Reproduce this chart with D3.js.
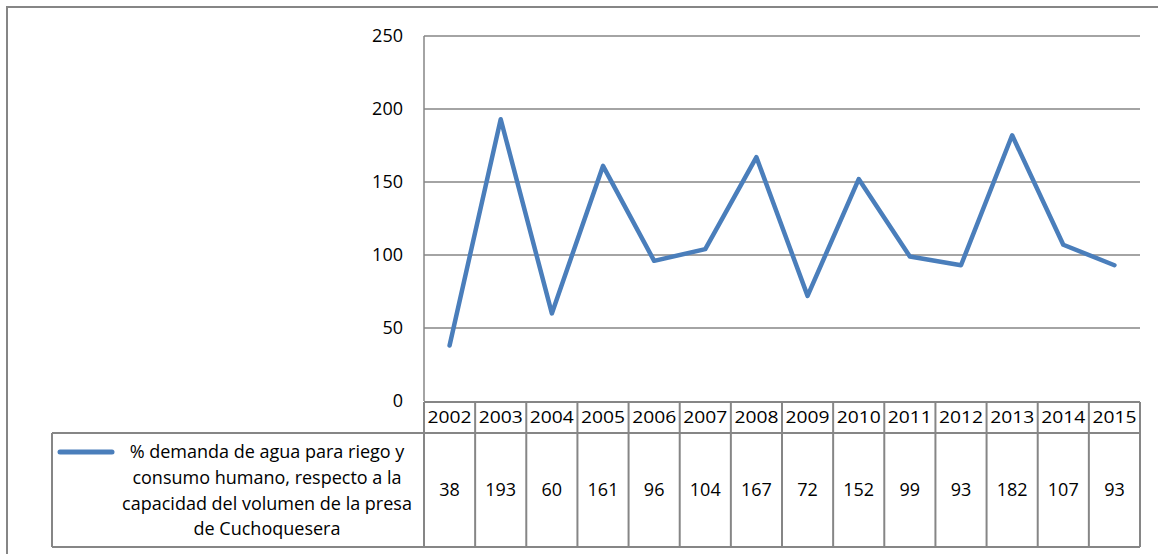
<!DOCTYPE html>
<meta charset="utf-8">
<style>
	body { margin: 0; background: #fff; }
	svg text { font-family: "Open Sans", "Liberation Sans", sans-serif; fill: #000; }
</style>
<svg width="1158" height="554"></svg>
<script src="https://d3js.org/d3.v7.min.js"></script>
<script>
	// data
	var years = ["2002", "2003", "2004", "2005", "2006", "2007", "2008", "2009", "2010", "2011", "2012", "2013", "2014", "2015"];
	var demanda = [38, 193, 60, 161, 96, 104, 167, 72, 152, 99, 93, 182, 107, 93];
	var yTicks = [0, 50, 100, 150, 200, 250];
	var seriesLabel = ["% demanda de agua para riego y", "consumo humano, respecto a la", "capacidad del volumen de la presa", "de Cuchoquesera"];

	// layout
	var plot = {left: 424, right: 1140, top: 36, bottom: 401};
	var table = {catTop: 402, catBottom: 433, dataBottom: 547, legendLeft: 52};
	var grey = "#868686";
	var blue = "#4a7ebb";
	var fs = "18px";

	var svg = d3.select("svg");

	// outer border
	svg.append("rect")
		.attr("x", 7).attr("y", 7)
		.attr("width", 1170).attr("height", 570)
		.attr("fill", "none")
		.attr("stroke", grey)
		.attr("stroke-width", 2);

	var x = d3.scaleBand()
		.domain(years)
		.range([plot.left, plot.right]);
	var y = d3.scaleLinear()
		.domain([0, 250])
		.range([plot.bottom, plot.top]);

	// gridlines
	svg.append("g")
		.selectAll("line")
		.data(yTicks.filter(function(d) { return d > 0; }))
		.enter().append("line")
			.attr("x1", plot.left).attr("x2", plot.right)
			.attr("y1", function(d) { return y(d); })
			.attr("y2", function(d) { return y(d); })
			.attr("stroke", grey)
			.attr("stroke-width", 1.5);

	// y axis line
	svg.append("line")
		.attr("x1", plot.left).attr("x2", plot.left)
		.attr("y1", plot.top).attr("y2", plot.bottom)
		.attr("stroke", grey)
		.attr("stroke-width", 1.5);

	// y labels
	svg.append("g")
		.selectAll("text")
		.data(yTicks)
		.enter().append("text")
			.attr("x", 403)
			.attr("y", function(d) { return y(d); })
			.attr("dy", "0.35em")
			.attr("text-anchor", "end")
			.style("font-size", fs)
			.text(function(d) { return d; });

	// table
	var tg = svg.append("g")
		.attr("fill", "none")
		.attr("stroke", grey)
		.attr("stroke-width", 2);
	// category row
	tg.append("line")
		.attr("x1", plot.left).attr("x2", plot.right)
		.attr("y1", table.catTop).attr("y2", table.catTop);
	// data row top
	tg.append("line")
		.attr("x1", table.legendLeft).attr("x2", plot.right)
		.attr("y1", table.catBottom).attr("y2", table.catBottom);
	// bottom
	tg.append("line")
		.attr("x1", table.legendLeft).attr("x2", plot.right)
		.attr("y1", table.dataBottom).attr("y2", table.dataBottom);
	// legend cell left
	tg.append("line")
		.attr("x1", table.legendLeft).attr("x2", table.legendLeft)
		.attr("y1", table.catBottom).attr("y2", table.dataBottom);
	// column separators
	tg.selectAll("line.col")
		.data(years.concat(["end"]))
		.enter().append("line")
			.attr("class", "col")
			.attr("x1", function(d, i) { return plot.left + i * x.bandwidth(); })
			.attr("x2", function(d, i) { return plot.left + i * x.bandwidth(); })
			.attr("y1", table.catTop)
			.attr("y2", table.dataBottom);

	// year labels
	svg.append("g")
		.selectAll("text")
		.data(years)
		.enter().append("text")
			.attr("x", function(d) { return x(d) + x.bandwidth() / 2; })
			.attr("y", (table.catTop + table.catBottom) / 2)
			.attr("dy", "0.35em")
			.attr("text-anchor", "middle")
			.style("font-size", "17px")
			.attr("textLength", 44)
			.attr("lengthAdjust", "spacingAndGlyphs")
			.text(function(d) { return d; });

	// values
	svg.append("g")
		.selectAll("text")
		.data(demanda)
		.enter().append("text")
			.attr("x", function(d, i) { return x(years[i]) + x.bandwidth() / 2; })
			.attr("y", (table.catBottom + table.dataBottom) / 2)
			.attr("dy", "0.35em")
			.attr("text-anchor", "middle")
			.style("font-size", fs)
			.text(function(d) { return d; });

	// legend
	svg.append("line")
		.attr("x1", 60).attr("x2", 112)
		.attr("y1", 452).attr("y2", 452)
		.attr("stroke", blue)
		.attr("stroke-width", 5)
		.attr("stroke-linecap", "round");
	svg.append("g")
		.selectAll("text")
		.data(seriesLabel)
		.enter().append("text")
			.attr("x", 267)
			.attr("y", function(d, i) { return 452 + i * 25.7; })
			.attr("dy", "0.35em")
			.attr("text-anchor", "middle")
			.style("font-size", fs)
			.text(function(d) { return d; });

	// series line
	var line = d3.line()
		.x(function(d, i) { return x(years[i]) + x.bandwidth() / 2; })
		.y(function(d) { return y(d); });
	svg.append("path")
		.datum(demanda)
		.attr("d", line)
		.attr("fill", "none")
		.attr("stroke", blue)
		.attr("stroke-width", 4.5)
		.attr("stroke-linejoin", "round")
		.attr("stroke-linecap", "round");
</script>
